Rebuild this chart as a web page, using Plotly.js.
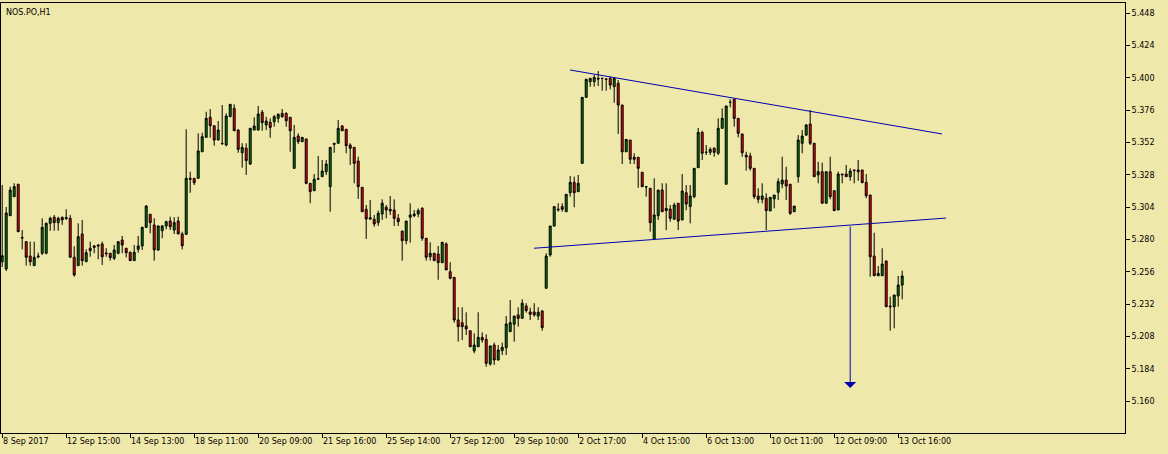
<!DOCTYPE html>
<html><head><meta charset="utf-8">
<script src="https://cdn.plot.ly/plotly-3.0.1.min.js"></script>
<style>html,body{margin:0;padding:0;background:#EEE8AA;}#chart{width:1168px;height:454px;}</style>
</head><body><div id="chart"></div>
<script>
const symbolLabel = "NOS.PO,H1";
const openP = [
5.2635,5.2581,5.2977,5.3118,5.3210,5.2815,5.2784,5.2677,5.2606,5.2670,
5.2698,5.2698,5.2920,5.2965,5.2925,5.2965,5.2955,5.2957,5.2668,5.2606,
5.2841,5.2635,5.2735,5.2752,5.2759,5.2767,5.2700,5.2698,5.2660,5.2698,
5.2796,5.2735,5.2705,5.2643,5.2727,5.2752,5.2890,5.2987,5.2908,5.2722,
5.2865,5.2900,5.2937,5.2870,5.2937,5.2841,5.2838,5.3254,5.3254,5.3254,
5.3451,5.3558,5.3707,5.3644,5.3538,5.3514,5.3501,5.3711,5.3773,5.3612,
5.3444,5.3477,5.3360,5.3612,5.3612,5.3744,5.3650,5.3670,5.3674,5.3699,
5.3736,5.3736,5.3707,5.3328,5.3568,5.3526,5.3546,5.3217,5.3162,5.3251,
5.3266,5.3303,5.3192,5.3514,5.3514,5.3642,5.3618,5.3501,5.3484,5.3382,
5.3187,5.3024,5.2962,5.2950,5.2925,5.2989,5.3039,5.3024,5.3019,5.2957,
5.2863,5.2791,5.2965,5.2977,5.2989,5.3031,5.2809,5.2672,5.2698,5.2692,
5.2628,5.2767,5.2561,5.2519,5.2203,5.2183,5.2158,5.2123,5.1973,5.2004,
5.2074,5.2059,5.1876,5.2017,5.1906,5.1975,5.1997,5.2116,5.2171,5.2240,
5.2215,5.2306,5.2262,5.2262,5.2232,5.2269,5.2438,5.2685,5.2900,5.3019,
5.3044,5.3006,5.3147,5.3224,5.3155,5.3365,5.3855,5.3971,5.3971,5.3996,
5.3996,5.3991,5.3996,5.3934,5.3959,5.3798,5.3451,5.3538,5.3410,5.3410,
5.3299,5.3192,5.3180,5.2804,5.2977,5.3167,5.3014,5.3026,5.2950,5.3069,
5.2945,5.3147,5.3044,5.3118,5.3333,5.3595,5.3447,5.3447,5.3477,5.3440,
5.3625,5.3210,5.3818,5.3840,5.3699,5.3583,5.3425,5.3420,5.3328,5.3123,
5.3098,5.3106,5.3012,5.3101,5.3150,5.3212,5.3241,5.3210,5.3006,5.3266,
5.3514,5.3575,5.3657,5.3514,5.3279,5.3303,5.3069,5.3303,5.3162,5.3019,
5.3286,5.3286,5.3266,5.3316,5.3316,5.3316,5.3224,5.3130,5.2677,5.2531,
5.2531,5.2641,5.2306,5.2301,5.2381,5.2462];
const highP = [
5.3205,5.3041,5.3192,5.3217,5.3212,5.2870,5.2786,5.2784,5.2784,5.2702,
5.2957,5.2925,5.2969,5.2982,5.2969,5.2969,5.3024,5.2982,5.2750,5.2920,
5.2945,5.2727,5.2784,5.2759,5.2767,5.2784,5.2735,5.2698,5.2759,5.2784,
5.2826,5.2735,5.2710,5.2759,5.2826,5.2895,5.3056,5.2990,5.2957,5.2905,
5.2908,5.2940,5.2969,5.2965,5.2969,5.2858,5.3618,5.3303,5.3254,5.3588,
5.3592,5.3748,5.3768,5.3644,5.3679,5.3798,5.3736,5.3803,5.3803,5.3620,
5.3514,5.3514,5.3625,5.3707,5.3791,5.3761,5.3711,5.3699,5.3724,5.3736,
5.3768,5.3744,5.3707,5.3650,5.3588,5.3560,5.3546,5.3217,5.3286,5.3420,
5.3390,5.3390,5.3484,5.3514,5.3687,5.3650,5.3618,5.3514,5.3484,5.3414,
5.3190,5.3056,5.3093,5.2982,5.3014,5.3098,5.3056,5.3123,5.3098,5.2989,
5.2863,5.2937,5.3069,5.3019,5.3031,5.3040,5.2809,5.2779,5.2700,5.2752,
5.2782,5.2779,5.2631,5.2519,5.2297,5.2297,5.2260,5.2123,5.2104,5.2260,
5.2111,5.2096,5.2012,5.2034,5.2017,5.2034,5.2232,5.2351,5.2232,5.2297,
5.2356,5.2327,5.2294,5.2327,5.2297,5.2277,5.2697,5.2900,5.3046,5.3069,
5.3069,5.3135,5.3271,5.3266,5.3279,5.3857,5.3992,5.3996,5.4021,5.4050,
5.3999,5.3996,5.4008,5.3996,5.3983,5.3798,5.3545,5.3538,5.3440,5.3410,
5.3299,5.3195,5.3180,5.3254,5.3167,5.3217,5.3217,5.3056,5.3073,5.3069,
5.3286,5.3204,5.3204,5.3328,5.3627,5.3607,5.3501,5.3484,5.3484,5.3699,
5.3773,5.3791,5.3840,5.3845,5.3699,5.3583,5.3451,5.3444,5.3328,5.3180,
5.3217,5.3143,5.3113,5.3130,5.3254,5.3414,5.3340,5.3210,5.3048,5.3575,
5.3612,5.3657,5.3761,5.3514,5.3377,5.3370,5.3303,5.3414,5.3162,5.3303,
5.3286,5.3353,5.3328,5.3318,5.3390,5.3316,5.3286,5.3130,5.2850,5.2603,
5.2735,5.2641,5.2376,5.2388,5.2529,5.2568];
const lowP = [
5.2596,5.2566,5.2974,5.3115,5.2855,5.2727,5.2606,5.2606,5.2604,5.2660,
5.2685,5.2690,5.2865,5.2865,5.2865,5.2908,5.2945,5.2668,5.2524,5.2606,
5.2606,5.2635,5.2672,5.2698,5.2653,5.2611,5.2672,5.2643,5.2648,5.2690,
5.2698,5.2667,5.2643,5.2643,5.2702,5.2722,5.2885,5.2846,5.2643,5.2715,
5.2809,5.2876,5.2870,5.2841,5.2841,5.2727,5.2838,5.3147,5.3204,5.3254,
5.3451,5.3558,5.3555,5.3496,5.3538,5.3501,5.3491,5.3711,5.3607,5.3444,
5.3333,5.3279,5.3353,5.3612,5.3612,5.3607,5.3612,5.3555,5.3637,5.3667,
5.3704,5.3637,5.3451,5.3328,5.3509,5.3524,5.3210,5.3069,5.3162,5.3241,
5.3266,5.3279,5.3006,5.3444,5.3514,5.3607,5.3440,5.3353,5.3217,5.3101,
5.3006,5.2804,5.2945,5.2895,5.2900,5.2945,5.2957,5.2982,5.2900,5.2900,
5.2643,5.2764,5.2776,5.2965,5.2965,5.2791,5.2643,5.2643,5.2640,5.2501,
5.2625,5.2574,5.2505,5.2183,5.2042,5.2054,5.2091,5.2004,5.1956,5.2004,
5.2034,5.1856,5.1864,5.1869,5.1901,5.1943,5.1943,5.2116,5.2042,5.2153,
5.2215,5.2257,5.2203,5.2227,5.2203,5.2123,5.2438,5.2672,5.2897,5.3006,
5.3006,5.3006,5.3118,5.3039,5.3155,5.3363,5.3852,5.3934,5.3934,5.3939,
5.3904,5.3904,5.3914,5.3815,5.3583,5.3360,5.3449,5.3360,5.3360,5.3184,
5.3190,5.3118,5.2858,5.2804,5.2945,5.3006,5.2870,5.2932,5.2950,5.2870,
5.2945,5.3017,5.2920,5.3106,5.3333,5.3390,5.3427,5.3427,5.3414,5.3427,
5.3625,5.3210,5.3781,5.3637,5.3558,5.3414,5.3311,5.3311,5.3101,5.3069,
5.3069,5.2870,5.3012,5.3031,5.3093,5.3180,5.3093,5.2982,5.3006,5.3222,
5.3440,5.3568,5.3501,5.3266,5.3217,5.3069,5.3069,5.3098,5.3019,5.3019,
5.3217,5.3266,5.3236,5.3217,5.3236,5.3217,5.3106,5.2524,5.2531,5.2529,
5.2529,5.2301,5.2123,5.2141,5.2301,5.2356];
const closeP = [
5.2680,5.2997,5.3167,5.3192,5.2858,5.2811,5.2668,5.2635,5.2668,5.2676,
5.2890,5.2920,5.2957,5.2925,5.2957,5.2945,5.2963,5.2668,5.2537,5.2821,
5.2643,5.2702,5.2717,5.2742,5.2752,5.2672,5.2695,5.2665,5.2722,5.2784,
5.2759,5.2702,5.2643,5.2705,5.2752,5.2890,5.3048,5.2925,5.2722,5.2900,
5.2900,5.2932,5.2895,5.2925,5.2841,5.2754,5.3254,5.3247,5.3221,5.3457,
5.3563,5.3699,5.3644,5.3538,5.3612,5.3512,5.3716,5.3803,5.3607,5.3469,
5.3484,5.3385,5.3625,5.3642,5.3731,5.3667,5.3679,5.3632,5.3711,5.3729,
5.3711,5.3681,5.3607,5.3558,5.3526,5.3558,5.3217,5.3155,5.3247,5.3249,
5.3308,5.3360,5.3484,5.3507,5.3625,5.3607,5.3496,5.3477,5.3365,5.3192,
5.3006,5.2952,5.2952,5.2915,5.2994,5.3069,5.3019,5.3012,5.2957,5.2932,
5.2791,5.2937,5.2982,5.2989,5.3014,5.2809,5.2668,5.2698,5.2643,5.2628,
5.2779,5.2574,5.2512,5.2203,5.2153,5.2153,5.2136,5.2004,5.2017,5.2074,
5.2054,5.1881,5.2010,5.1906,5.1980,5.2000,5.2173,5.2183,5.2232,5.2215,
5.2327,5.2272,5.2245,5.2240,5.2260,5.2146,5.2677,5.2900,5.3044,5.3024,
5.3024,5.3135,5.3224,5.3147,5.3217,5.3855,5.3989,5.3996,5.4003,5.3991,
5.3996,5.3989,5.3946,5.3996,5.3798,5.3451,5.3543,5.3395,5.3395,5.3328,
5.3192,5.3190,5.2925,5.2982,5.3167,5.3006,5.3031,5.2957,5.3056,5.2937,
5.3160,5.3063,5.3123,5.3328,5.3595,5.3440,5.3447,5.3469,5.3447,5.3625,
5.3699,5.3791,5.3818,5.3699,5.3588,5.3444,5.3414,5.3328,5.3118,5.3098,
5.3123,5.3014,5.3113,5.3130,5.3229,5.3241,5.3197,5.2994,5.3048,5.3538,
5.3568,5.3650,5.3514,5.3266,5.3303,5.3069,5.3303,5.3118,5.3014,5.3286,
5.3281,5.3266,5.3308,5.3311,5.3303,5.3222,5.3125,5.2672,5.2531,5.2549,
5.2618,5.2301,5.2301,5.2388,5.2462,5.2529];
const timeLabels = ["8 Sep 2017","12 Sep 15:00","14 Sep 13:00","18 Sep 11:00","20 Sep 09:00","21 Sep 16:00","25 Sep 14:00","27 Sep 12:00","29 Sep 10:00","2 Oct 17:00","4 Oct 15:00","6 Oct 13:00","10 Oct 11:00","12 Oct 09:00","13 Oct 16:00"];
const timeLabelBars = [0,16,32,48,64,80,96,112,128,144,160,176,192,208,224];
const priceTicks = [5.160,5.184,5.208,5.232,5.256,5.280,5.304,5.328,5.352,5.376,5.400,5.424,5.448];
const resistanceBars = [141.95, 234.95];
const resistancePrices = [5.4058, 5.3583];
const supportBars = [132.95, 235.95];
const supportPrices = [5.2735, 5.2959];
const targetBar = 212;
const targetFrom = 5.2907;
const targetTo = 5.1698;

const bars = openP.map((_, i) => i);
const lineBlue = '#0000B0';
const font = {family: 'DejaVu Sans, Verdana, sans-serif', size: 8, color: '#000'};

const traces = [
  {type: 'candlestick', x: bars, open: openP, high: highP, low: lowP, close: closeP,
   whiskerwidth: 0,
   increasing: {fillcolor: '#008000', line: {color: '#000', width: 1}},
   decreasing: {fillcolor: '#FF0000', line: {color: '#000', width: 1}},
   hoverinfo: 'skip', showlegend: false},
  {type: 'scatter', mode: 'lines', x: resistanceBars, y: resistancePrices,
   line: {color: lineBlue, width: 1}, hoverinfo: 'skip', showlegend: false},
  {type: 'scatter', mode: 'lines', x: supportBars, y: supportPrices,
   line: {color: lineBlue, width: 1}, hoverinfo: 'skip', showlegend: false}
];

const annotations = timeLabels.map((t, k) => ({
  text: t, x: timeLabelBars[k], xref: 'x', y: 0, yref: 'paper',
  xanchor: 'left', yanchor: 'top', yshift: -2, xshift: -1, showarrow: false, font: font
}));
annotations.push({text: symbolLabel, xref: 'paper', yref: 'paper', x: 0, y: 1,
  xanchor: 'left', yanchor: 'top', xshift: 3, yshift: -3, showarrow: false, font: font});
annotations.push({text: '', x: targetBar, y: targetTo, xref: 'x', yref: 'y',
  ax: targetBar, ay: targetFrom, axref: 'x', ayref: 'y', showarrow: true,
  arrowhead: 1, arrowsize: 2, arrowwidth: 1, arrowcolor: lineBlue, standoff: 0});

const layout = {
  width: 1168, height: 454,
  margin: {l: 1, r: 43, t: 3, b: 21},
  paper_bgcolor: '#EEE8AA', plot_bgcolor: '#EEE8AA',
  showlegend: false, boxgap: 0.3,
  font: font,
  xaxis: {type: 'linear', range: [-0.3, 280.7], rangeslider: {visible: false},
    showgrid: false, zeroline: false, showline: true, mirror: true, linecolor: '#000', linewidth: 1,
    tickmode: 'array', tickvals: timeLabelBars, ticktext: timeLabels.map(() => ''),
    ticks: 'outside', ticklen: 4, tickcolor: '#000', showticklabels: false},
  yaxis: {range: [5.1364, 5.4555], side: 'right', showgrid: false, zeroline: false,
    showline: true, mirror: true, linecolor: '#000', linewidth: 1,
    tickmode: 'array', tickvals: priceTicks, ticktext: priceTicks.map(v => v.toFixed(3)),
    ticks: 'outside', ticklen: 4, tickcolor: '#000', tickfont: font},
  annotations: annotations
};
Plotly.newPlot('chart', traces, layout, {staticPlot: true, displayModeBar: false});
</script></body></html>
